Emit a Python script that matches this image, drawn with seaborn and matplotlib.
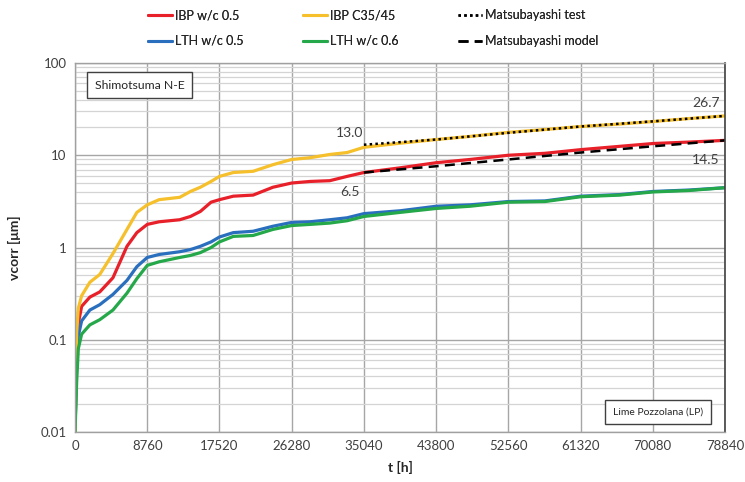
import numpy as np
import pandas as pd
import matplotlib
matplotlib.use("Agg")
import matplotlib.pyplot as plt
import seaborn as sns
from matplotlib.ticker import FixedLocator, LogLocator, NullFormatter, FixedFormatter

# time axis in hours
t_hours = [0, 200, 400, 800, 1800, 3000, 4600, 6300, 7500, 8760,
           10200, 12700, 14000, 15200, 16500, 17520, 19200, 21600, 24000, 26280,
           28500, 30900, 33000, 35040, 39400, 43800, 47900, 52560, 57000, 61320,
           66100, 70080, 74500, 78840]

# corrosion depth vcorr [µm]
ibp_wc05 = [0.01, 0.08, 0.15, 0.23, 0.29, 0.33, 0.47, 1.03, 1.45, 1.78,
            1.9, 2.0, 2.17, 2.46, 3.1, 3.3, 3.6, 3.7, 4.5, 5.0,
            5.2, 5.3, 5.9, 6.5, 7.3, 8.3, 9.0, 10.0, 10.5, 11.5,
            12.5, 13.4, 13.9, 14.5]
ibp_c3545 = [0.01, 0.12, 0.22, 0.30, 0.42, 0.51, 0.86, 1.57, 2.4, 2.9,
             3.3, 3.5, 4.05, 4.5, 5.2, 5.9, 6.5, 6.7, 7.9, 9.0,
             9.4, 10.2, 10.7, 12.2, 13.5, 14.8, 16.0, 17.7, 19.0, 20.5,
             21.8, 23.2, 25.0, 26.7]
lth_wc05 = [0.01, 0.06, 0.11, 0.16, 0.21, 0.24, 0.31, 0.44, 0.62, 0.78,
            0.84, 0.9, 0.95, 1.03, 1.15, 1.3, 1.45, 1.5, 1.7, 1.87,
            1.9, 2.0, 2.1, 2.33, 2.5, 2.8, 2.9, 3.15, 3.2, 3.6,
            3.75, 4.05, 4.2, 4.45]
lth_wc06 = [0.01, 0.035, 0.08, 0.115, 0.145, 0.165, 0.21, 0.32, 0.46, 0.64,
            0.7, 0.78, 0.82, 0.88, 1.0, 1.15, 1.32, 1.35, 1.57, 1.73,
            1.78, 1.84, 1.95, 2.17, 2.4, 2.65, 2.8, 3.1, 3.15, 3.55,
            3.7, 4.0, 4.15, 4.45]

# Matsubayashi prediction from 35040 h onwards
t_matsu = [35040, 43800, 52560, 61320, 70080, 78840]
matsu_test = [13.0, 14.8, 17.5, 20.5, 23.3, 26.7]
matsu_model = [6.5, 7.6, 9.0, 10.7, 12.5, 14.5]

x_ticks = [0, 8760, 17520, 26280, 35040, 43800, 52560, 61320, 70080, 78840]
y_ticks = [0.01, 0.1, 1, 10, 100]
y_tick_labels = ["0.01", "0.1", "1", "10", "100"]

sns.set_theme(style="white")
plt.rcParams["font.family"] = ["Lato", "DejaVu Sans"]

fig = plt.figure(figsize=(7.45, 4.82), dpi=100)
ax = fig.add_axes([0.1007, 0.1037, 0.8725, 0.7656])

names = ["IBP w/c 0.5", "LTH w/c 0.5", "IBP C35/45", "LTH w/c 0.6"]
curves = pd.DataFrame({
    "t": t_hours * 4,
    "v": ibp_wc05 + lth_wc05 + ibp_c3545 + lth_wc06,
    "series": [n for n in names for _ in t_hours],
})
palette = {"IBP w/c 0.5": "#e8202a", "LTH w/c 0.5": "#2a6fbe",
           "IBP C35/45": "#f5c02c", "LTH w/c 0.6": "#25a84a"}
dot_style = (0, (1, 1.3))
dash_style = (0, (4, 2.5))

sns.lineplot(data=curves, x="t", y="v", hue="series", palette=palette,
             hue_order=names, linewidth=2.3, ax=ax, legend=False, sort=False)
sns.lineplot(x=t_matsu, y=matsu_test, color="black", linestyle=dot_style,
             linewidth=1.8, ax=ax, legend=False)
sns.lineplot(x=t_matsu, y=matsu_model, color="black", linestyle=dash_style,
             linewidth=1.8, ax=ax, legend=False)

ax.set_yscale("log")
ax.set_xlim(0, 78840)
ax.set_ylim(0.01, 100)
ax.xaxis.set_major_locator(FixedLocator(x_ticks))
ax.yaxis.set_major_locator(FixedLocator(y_ticks))
ax.yaxis.set_major_formatter(FixedFormatter(y_tick_labels))
ax.yaxis.set_minor_locator(LogLocator(base=10, subs=np.arange(2, 10)))
ax.yaxis.set_minor_formatter(NullFormatter())

ax.grid(True, which="major", axis="both", color="#a6a6a6", linewidth=1.0)
ax.grid(True, which="minor", axis="y", color="#d4d4d4", linewidth=0.9)
ax.set_axisbelow(True)
ax.tick_params(axis="both", which="both", length=0, labelsize=9.5,
               labelcolor="#404040", pad=6)

for side in ["left", "bottom", "top"]:
    ax.spines[side].set_color("#a0a0a0")
    ax.spines[side].set_linewidth(1.0)
ax.spines["right"].set_color("#404040")
ax.spines["right"].set_linewidth(1.2)

ax.set_xlabel("t [h]", fontsize=10, fontweight="bold", color="#262626", labelpad=6)
ax.set_ylabel("vcorr [\u03bcm]", fontsize=10, fontweight="bold", color="#262626", labelpad=14)

# value annotations at the ends of the Matsubayashi lines
ax.annotate(f"{matsu_test[0]:.1f}", xy=(t_matsu[0], matsu_test[0]),
            xytext=(-10, 4), textcoords="offset points", ha="center", va="bottom",
            fontsize=10, color="#404040")
ax.annotate(f"{matsu_model[0]:.1f}", xy=(t_matsu[0], matsu_model[0]),
            xytext=(-10, -10), textcoords="offset points", ha="center", va="top",
            fontsize=10, color="#404040")
ax.annotate(f"{matsu_test[-1]:.1f}", xy=(t_matsu[-1], matsu_test[-1]),
            xytext=(-14, 5), textcoords="offset points", ha="center", va="bottom",
            fontsize=10, color="#404040")
ax.annotate(f"{matsu_model[-1]:.1f}", xy=(t_matsu[-1], matsu_model[-1]),
            xytext=(-14, -10), textcoords="offset points", ha="center", va="top",
            fontsize=10, color="#404040")

ax.text(0.03, 0.94, "Shimotsuma N-E", transform=ax.transAxes, ha="left",
        va="center", fontsize=8.8, color="#262626",
        bbox=dict(boxstyle="square,pad=0.6", facecolor="white",
                  edgecolor="#404040", linewidth=1.0))
ax.text(0.966, 0.054, "Lime Pozzolana (LP)", transform=ax.transAxes, ha="right",
        va="center", fontsize=7.5, color="#262626",
        bbox=dict(boxstyle="square,pad=0.75", facecolor="white",
                  edgecolor="#404040", linewidth=1.0))

# legend: three columns of two entries each
columns = [
    (146, [("IBP w/c 0.5", palette["IBP w/c 0.5"], "-"),
           ("LTH w/c 0.5", palette["LTH w/c 0.5"], "-")]),
    (301, [("IBP C35/45", palette["IBP C35/45"], "-"),
           ("LTH w/c 0.6", palette["LTH w/c 0.6"], "-")]),
    (456, [("Matsubayashi test", "black", dot_style),
           ("Matsubayashi model", "black", dash_style)]),
]
for x_px, entries in columns:
    hs = [plt.Line2D([], [], color=c, linestyle=ls,
                     linewidth=2.2 if ls == "-" else 1.8) for _, c, ls in entries]
    leg = fig.legend(hs, [lab for lab, _, _ in entries], loc="center left",
                     bbox_to_anchor=(x_px / 745 - 0.012, 1 - 28 / 482),
                     frameon=False, fontsize=9, handlelength=1.9,
                     handletextpad=0.25, labelspacing=1.1,
                     labelcolor="#262626")
    fig.add_artist(leg)

fig.savefig("out.png", dpi=100)
